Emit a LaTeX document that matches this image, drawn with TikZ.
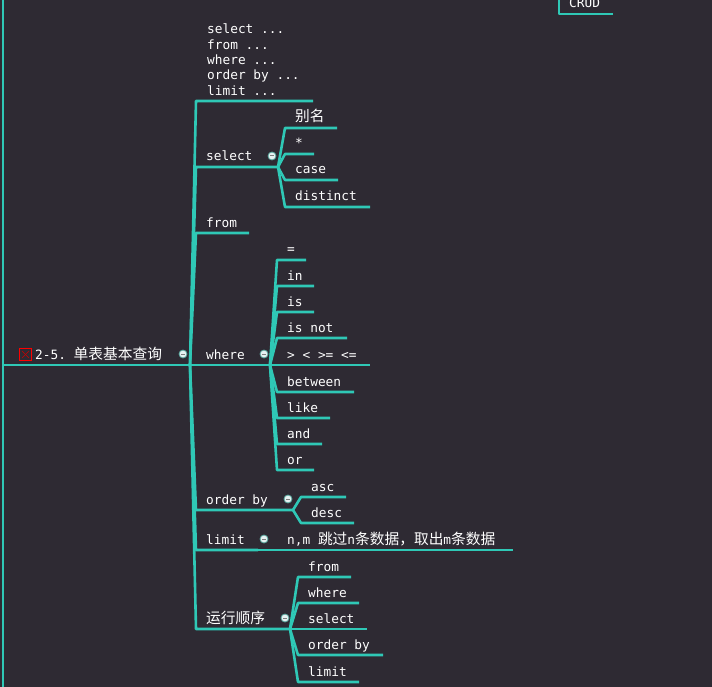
\documentclass[tikz,border=0pt]{standalone}
\usepackage{fontspec}
\setmonofont{DejaVu Sans Mono}
\newfontfamily\cjk{Noto Sans CJK SC}[Scale=1.15]
\usepackage{tikz}
\usetikzlibrary{calc}
\definecolor{bgdark}{HTML}{2E2A33}
\definecolor{mmteal}{HTML}{2FC8B6}
\definecolor{knobfill}{HTML}{E6F2F2}
\newcommand{\mmitem}[5]{%
    % #1=name, #2=x left, #3=x right, #4=y of line, #5=text
    \coordinate (#1-l) at (#2,#4);
    \coordinate (#1-r) at (#3,#4);
    \node[lbl] (#1) at (#2+10,#4-6) {#5};
}

\begin{document}
\begin{tikzpicture}[x=1pt, y=-1pt,
    mmline/.style={draw=mmteal, line width=2.6pt, line join=round},
    lbl/.style={anchor=base west, inner sep=0pt, text=white, font=\ttfamily\fontsize{12.8}{15.3}\selectfont},
    knob/.style={circle, fill=knobfill, draw=mmteal!50!gray, line width=0.8pt, minimum size=8pt, inner sep=0pt,
        path picture={\draw[gray, line width=1pt] ([xshift=-2pt]path picture bounding box.center) -- ([xshift=2pt]path picture bounding box.center);}}
]
    % Background
    \fill[bgdark] (0,0) rectangle (712,687);
    \useasboundingbox (0,0) rectangle (712,687);

    % Parent trunk (left edge)
    \coordinate (trunktop) at (3,0);
    \coordinate (trunkbot) at (3,687);
    \draw[mmline] (trunktop) -- (trunkbot);

    % Neighbour branch, cut at the top
    \coordinate (crudfork) at (559,0);
    \mmitem{crud}{559}{613}{14}{CRUD}
    \draw[mmline] (crudfork) -- (crud-l) -- (crud-r);

    % Root topic
    \coordinate (root-l) at (3,365);
    \coordinate (rootfork) at (190,365);
    \node[draw=red, line width=0.8pt, minimum size=12pt, inner sep=0pt] (icon) at (25.5,354.5) {};
    \draw[red!80!black, line width=0.5pt] ([shift={(3,3)}]icon.north west) -- ([shift={(-3,-3)}]icon.south east);
    \draw[red!80!black, line width=0.5pt] ([shift={(-3,3)}]icon.north east) -- ([shift={(3,-3)}]icon.south west);
    \node[lbl] (root) at (35,359) {2-5. {\cjk 单表基本查询}};
    \node[knob] (knob-root) at (183,354) {};
    \draw[mmline] (root-l) -- (rootfork);

    % Children of the root
    \coordinate (syntax-l) at (196,101);
    \coordinate (syntax-r) at (313,101);
    \node[lbl, anchor=north west, align=left] (syntax) at (207,24) {select ...\\from ...\\where ...\\order by ...\\limit ...};
    \mmitem{select}{196}{278}{167}{select}
    \mmitem{from}{196}{249}{233}{from}
    \mmitem{where}{196}{270}{365}{where}
    \mmitem{orderby}{196}{293}{510}{order by}
    \mmitem{limit}{196}{258}{550}{limit}
    \mmitem{runorder}{196}{290}{629}{{\cjk 运行顺序}}

    \node[knob] (knob-select) at (272,156) {};
    \node[knob] (knob-where) at (264,354) {};
    \node[knob] (knob-orderby) at (288,499) {};
    \node[knob] (knob-limit) at (264,539) {};
    \node[knob] (knob-runorder) at (285,618) {};

    \draw[mmline] (rootfork) -- (syntax-l) -- (syntax-r);
    \draw[mmline] (rootfork) -- (select-l) -- (select-r);
    \draw[mmline] (rootfork) -- (from-l) -- (from-r);
    \draw[mmline] (rootfork) -- (where-l) -- (where-r);
    \draw[mmline] (rootfork) -- (orderby-l) -- (orderby-r);
    \draw[mmline] (rootfork) -- (limit-l) -- (limit-r);
    \draw[mmline] (rootfork) -- (runorder-l) -- (runorder-r);

    % select
    \mmitem{alias}{285}{337}{128}{{\cjk 别名}}
    \mmitem{star}{285}{314}{154}{*}
    \mmitem{case}{285}{338}{180}{case}
    \mmitem{distinct}{285}{370}{207}{distinct}
    \draw[mmline] (select-r) -- (alias-l) -- (alias-r);
    \draw[mmline] (select-r) -- (star-l) -- (star-r);
    \draw[mmline] (select-r) -- (case-l) -- (case-r);
    \draw[mmline] (select-r) -- (distinct-l) -- (distinct-r);

    % where
    \mmitem{eq}{277}{306}{260}{=}
    \mmitem{in}{277}{314}{286}{in}
    \mmitem{is}{277}{314}{312}{is}
    \mmitem{isnot}{277}{347}{338}{is not}
    \mmitem{cmp}{277}{370}{365}{> < >= <=}
    \mmitem{between}{277}{354}{392}{between}
    \mmitem{like}{277}{330}{418}{like}
    \mmitem{and}{277}{322}{444}{and}
    \mmitem{or}{277}{314}{470}{or}
    \draw[mmline] (where-r) -- (eq-l) -- (eq-r);
    \draw[mmline] (where-r) -- (in-l) -- (in-r);
    \draw[mmline] (where-r) -- (is-l) -- (is-r);
    \draw[mmline] (where-r) -- (isnot-l) -- (isnot-r);
    \draw[mmline] (where-r) -- (cmp-l) -- (cmp-r);
    \draw[mmline] (where-r) -- (between-l) -- (between-r);
    \draw[mmline] (where-r) -- (like-l) -- (like-r);
    \draw[mmline] (where-r) -- (and-l) -- (and-r);
    \draw[mmline] (where-r) -- (or-l) -- (or-r);

    % order by
    \mmitem{asc}{301}{346}{497}{asc}
    \mmitem{desc}{301}{354}{523}{desc}
    \draw[mmline] (orderby-r) -- (asc-l) -- (asc-r);
    \draw[mmline] (orderby-r) -- (desc-l) -- (desc-r);

    % limit
    \mmitem{skip}{277}{513}{550}{n,m {\cjk 跳过}n{\cjk 条数据，取出}m{\cjk 条数据}}
    \draw[mmline] (limit-r) -- (skip-l) -- (skip-r);

    % run order
    \mmitem{ro-from}{298}{351}{577}{from}
    \mmitem{ro-where}{298}{359}{603}{where}
    \mmitem{ro-select}{298}{367}{629}{select}
    \mmitem{ro-orderby}{298}{383}{655}{order by}
    \mmitem{ro-limit}{298}{359}{682}{limit}
    \draw[mmline] (runorder-r) -- (ro-from-l) -- (ro-from-r);
    \draw[mmline] (runorder-r) -- (ro-where-l) -- (ro-where-r);
    \draw[mmline] (runorder-r) -- (ro-select-l) -- (ro-select-r);
    \draw[mmline] (runorder-r) -- (ro-orderby-l) -- (ro-orderby-r);
    \draw[mmline] (runorder-r) -- (ro-limit-l) -- (ro-limit-r);
\end{tikzpicture}
\end{document}
